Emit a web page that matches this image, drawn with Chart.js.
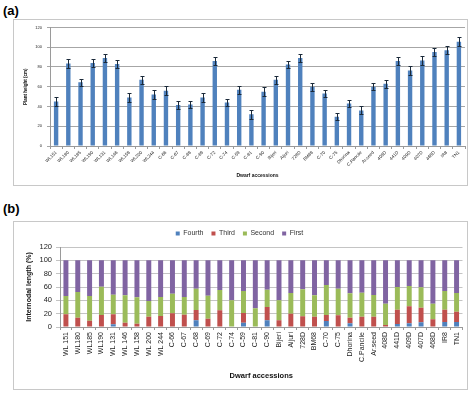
<!DOCTYPE html>
<html>
<head>
<meta charset="utf-8">
<script src="https://cdn.jsdelivr.net/npm/chart.js@4.4.1/dist/chart.umd.min.js"></script>
<style>
  body { margin: 0; background: #fff; width: 474px; height: 394px; position: relative; overflow: hidden; font-family: "Liberation Sans", Arial, sans-serif; }
  .tag { position: absolute; left: 3px; font-weight: bold; font-size: 13px; color: #000; line-height: 13px; }
  .box { position: absolute; left: 13px; width: 453px; border: 1px solid #c8c8c8; }
  .box canvas { display: block; }
</style>
</head>
<body>
<div class="tag" style="top:4px">(a)</div>
<div class="box" style="top:19px;height:165px"><canvas id="heightChart" width="453" height="165"></canvas></div>
<div class="tag" style="top:202px">(b)</div>
<div class="box" style="top:221px;height:167px"><canvas id="internodeChart" width="453" height="167"></canvas></div>
<script>
// accessions, as labelled under each chart
const heightLabels = ["WL151", "WL180", "WL185", "WL190", "WL131", "WL146", "WL158", "WL200", "WL244",
  "C-66", "C-67", "C-68", "C-69", "C-72", "C-74", "C-59", "C-81", "C-90", "Bijeri", "Aijuri", "728D",
  "BM68", "C-70", "C-75", "Dhorina", "C.Pancile", "Ar.seed", "408D", "441D", "409D", "407D", "468D", "IR8", "TN1"];
const internodeLabels = ["WL 151", "WL180", "WL185", "WL190", "WL 131", "WL 146", "WL 158", "WL 200", "WL 244",
  "C-66", "C-67", "C-68", "C-69", "C-72", "C-74", "C-59", "C-81", "C-90", "Bijeri", "Aijuri", "728D",
  "BM68", "C-70", "C-75", "Dhorina", "C.Pancile", "Ar.seed", "408D", "441D", "409D", "407D", "468D", "IR8", "TN1"];

// (a) plant height (cm) and error
const heights = [45, 83.5, 64.5, 84, 89, 83, 49, 67, 52, 56, 41.5, 42, 49, 86, 44, 57, 32, 55, 67, 82.5,
  89, 60, 53, 29.5, 43, 36, 60, 63, 86, 76.5, 86.5, 95, 97, 105.5];
const heightErr = [5, 4.3, 3.6, 4, 4.3, 4, 4.3, 4.3, 4.6, 4.3, 4.3, 4, 4.3, 4.3, 4, 4, 4.3, 4.3, 4.3, 4,
  4, 4, 3.6, 3.6, 4, 4, 3.6, 4, 4.3, 4.3, 4.3, 4, 4, 4.3];
const heightTicks = [0, 20, 40, 60, 80, 100, 120];

// (b) internode length share (%)
const fourth = [0, 0, 0, 0, 4, 0, 0, 0, 0, 0, 0, 10, 0, 0, 0, 6.5, 0, 10, 0, 0, 0, 0, 9, 0, 5.5, 0, 0, 0,
  4.5, 5.5, 7, 0, 7.5, 7.5];
const third = [19, 14, 9.5, 18, 15, 6.5, 5, 15.5, 16.5, 20.5, 18.5, 15.5, 12.5, 25, 0, 14.5, 0, 20, 10, 20,
  16, 15.5, 9, 17.5, 8.5, 15.5, 15.5, 3, 21.5, 25.5, 22, 11.5, 18.5, 15.5];
const second = [27.5, 38.5, 37, 42.5, 29.5, 41, 39.5, 23.5, 28.5, 29.5, 26.5, 32, 34.5, 30.5, 40, 33, 28, 26,
  30, 31, 40.5, 32, 45, 40, 36.5, 36, 32.5, 32, 34, 30.5, 30.5, 23.5, 28, 28];
const first = [53.5, 47.5, 53.5, 39.5, 51.5, 52.5, 55.5, 61, 55, 50, 55, 42.5, 53, 44.5, 60, 46, 72, 44, 60, 49,
  43.5, 52.5, 37, 42.5, 49.5, 48.5, 52, 65, 40, 38.5, 40.5, 65, 46, 49];

const font = "'Liberation Sans', Arial, sans-serif";

const errorBars = {
  id: "errorBars",
  afterDatasetsDraw(chart) {
    const { ctx } = chart;
    const y = chart.scales.y;
    ctx.save();
    ctx.strokeStyle = "#1b2a3a";
    ctx.lineWidth = 1;
    chart.getDatasetMeta(0).data.forEach((bar, i) => {
      const hi = Math.round(y.getPixelForValue(heights[i] + heightErr[i])) + 0.5;
      const lo = Math.round(y.getPixelForValue(heights[i] - heightErr[i])) + 0.5;
      const x = Math.round(bar.x) + 0.5;
      ctx.beginPath();
      ctx.moveTo(x, lo); ctx.lineTo(x, hi);
      ctx.moveTo(x - 2, hi); ctx.lineTo(x + 2, hi);
      ctx.moveTo(x - 2, lo); ctx.lineTo(x + 2, lo);
      ctx.stroke();
    });
    ctx.restore();
  }
};

new Chart("heightChart", {
  type: "bar",
  data: {
    labels: heightLabels,
    datasets: [{ label: "Plant height", data: heights, backgroundColor: "#4f81bd",
      barPercentage: 0.36, categoryPercentage: 1 }]
  },
  options: {
    responsive: false, animation: false, devicePixelRatio: 1,
    layout: { padding: { top: 5, right: 2, left: 0, bottom: 0 } },
    plugins: { legend: { display: false }, tooltip: { enabled: false } },
    scales: {
      x: {
        afterFit: s => { s.height = 39; },
        grid: { drawOnChartArea: false, tickLength: 3, color: "#9a9a9a" },
        border: { color: "#9a9a9a" },
        ticks: { autoSkip: false, minRotation: 45, maxRotation: 45, padding: 1, color: "#222",
          font: { family: font, size: 4.5 } },
        title: { display: true, text: "Dwarf accessions", color: "#111", padding: { top: 0, bottom: 6 },
          font: { family: font, size: 5, weight: "bold" } }
      },
      y: {
        min: 0, max: 120,
        afterFit: s => { s.width = 36; },
        afterBuildTicks: s => { s.ticks = heightTicks.map(v => ({ value: v })); },
        grid: { color: "#a6a6a6", tickLength: 3 },
        border: { color: "#9a9a9a" },
        ticks: { padding: 5, color: "#222", font: { family: font, size: 4 } },
        title: { display: true, text: "Plant height (cm)", color: "#111", padding: { top: 9.3, bottom: 0 },
          font: { family: font, size: 4.5, weight: "bold" } }
      }
    }
  },
  plugins: [errorBars]
});

const stackSet = (label, data, color) => ({ label, data, backgroundColor: color,
  barPercentage: 0.42, categoryPercentage: 1 });

new Chart("internodeChart", {
  type: "bar",
  data: {
    labels: internodeLabels,
    datasets: [
      stackSet("Fourth", fourth, "#4f81bd"),
      stackSet("Third", third, "#c0504d"),
      stackSet("Second", second, "#9bbb59"),
      stackSet("First", first, "#8064a2")
    ]
  },
  options: {
    responsive: false, animation: false, devicePixelRatio: 1,
    layout: { padding: { top: 0, right: 2, left: 0, bottom: 0 } },
    plugins: {
      tooltip: { enabled: false },
      legend: {
        position: "top",
        labels: { boxWidth: 4, boxHeight: 4, padding: 8, color: "#333",
          font: { family: font, size: 7 } }
      }
    },
    scales: {
      x: {
        stacked: true,
        afterFit: s => { s.height = 62; },
        grid: { drawOnChartArea: false, tickLength: 3, color: "#9a9a9a" },
        border: { color: "#9a9a9a" },
        ticks: { autoSkip: false, minRotation: 90, maxRotation: 90, padding: 2, color: "#222",
          font: { family: font, size: 7 } },
        title: { display: true, text: "Dwarf accessions", color: "#111", padding: { top: 0, bottom: 8.8 },
          font: { family: font, size: 7.5, weight: "bold" } }
      },
      y: {
        stacked: true, min: 0, max: 120,
        afterFit: s => { s.width = 46; },
        afterBuildTicks: s => { s.ticks = heightTicks.map(v => ({ value: v })); },
        grid: { color: "#c4c4c4", tickLength: 4 },
        border: { color: "#9a9a9a" },
        ticks: { padding: 4, color: "#222", font: { family: font, size: 7.5 } },
        title: { display: true, text: "Internodal length (%)", color: "#111", padding: { top: 10.8, bottom: 0 },
          font: { family: font, size: 7, weight: "bold" } }
      }
    }
  }
});
</script>
</body>
</html>
